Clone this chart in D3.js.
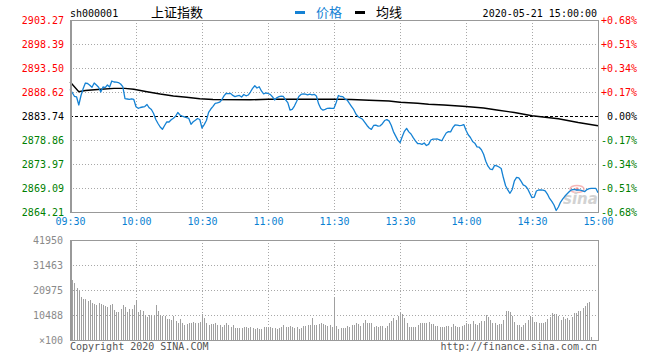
<!DOCTYPE html>
<html>
<head>
<meta charset="utf-8">
<script src="https://cdn.jsdelivr.net/npm/d3@7"></script>
<style>
  body { margin: 0; background: #fff; }
  svg { display: block; }
</style>
</head>
<body>
<div id="chart"></div>
<script>
var stockCode = 'sh000001';
var stockName = '上证指数';
var stamp = '2020-05-21 15:00:00';
var legendNames = ['价格', '均线'];
var prevClose = 2883.74;

var priceTicks = [2903.27, 2898.39, 2893.50, 2888.62, 2883.74, 2878.86, 2873.97, 2869.09, 2864.21];
var pctLabels = ['+0.68%', '+0.51%', '+0.34%', '+0.17%', '0.00%', '-0.17%', '-0.34%', '-0.51%', '-0.68%'];
var volTicks = [41950, 31463, 20975, 10488, 0];
var volLabels = ['41950', '31463', '20975', '10488', '\u00d7100'];
var timeIdx = [0, 30, 60, 90, 120, 150, 180, 210, 240];
var timeLabels = ['09:30', '10:00', '10:30', '11:00', '11:30', '13:30', '14:00', '14:30', '15:00'];

// minute prices, 09:30 - 11:30
var morningPrice = [
  2889.17, 2888.52, 2887.75, 2887.61, 2885.98, 2887.91, 2889.33, 2890.45, 2890.35, 2890.01,
  2889.58, 2890.45, 2890.05, 2889.58, 2888.62, 2889.64, 2889.52, 2890.05, 2889.64, 2890.86,
  2890.66, 2890.62, 2890.55, 2890.25, 2889.70, 2887.26, 2887.20, 2887.14, 2887.24, 2887.10,
  2885.63, 2885.31, 2885.47, 2885.57, 2885.67, 2886.08, 2885.41, 2885.06, 2884.25, 2883.03,
  2882.21, 2881.50, 2881.03, 2881.81, 2882.56, 2882.52, 2882.99, 2883.29, 2883.68, 2884.45,
  2883.94, 2883.70, 2883.54, 2883.39, 2883.25, 2882.05, 2882.56, 2882.89, 2883.23, 2883.03,
  2881.30, 2881.99, 2882.82, 2884.49, 2885.16, 2885.71, 2886.32, 2886.40, 2886.55, 2887.04,
  2887.83, 2888.36, 2888.30, 2888.34, 2887.93, 2887.69, 2887.83, 2887.93, 2887.61, 2888.11,
  2887.85, 2888.01, 2888.62, 2889.37, 2889.90, 2889.44, 2889.68, 2888.83, 2888.24, 2888.42,
  2888.32, 2888.13, 2887.67, 2887.00, 2887.46, 2887.69, 2887.79, 2887.71, 2887.02, 2886.45,
  2884.96, 2885.08, 2885.77, 2886.69, 2887.71, 2888.13, 2888.22, 2888.18, 2888.03, 2888.20,
  2888.05, 2888.15, 2887.81, 2886.22, 2885.27, 2884.92, 2885.10, 2885.31, 2885.33, 2885.29,
  2885.31
];

// minute prices, 13:01 - 15:00
var afternoonPrice = [
  2886.49, 2887.91, 2887.71, 2887.69, 2887.20, 2886.99, 2886.30, 2885.65, 2885.02, 2884.11,
  2883.58, 2883.33, 2883.07, 2882.46, 2881.81, 2881.30, 2881.03, 2881.81, 2881.87, 2881.67,
  2881.75, 2882.17, 2882.82, 2883.01, 2882.74, 2881.87, 2880.57, 2879.69, 2878.84, 2878.31,
  2879.53, 2880.63, 2881.22, 2880.51, 2880.08, 2879.33, 2878.68, 2878.15, 2878.11, 2877.96,
  2878.25, 2877.74, 2877.96, 2878.86, 2879.04, 2879.02, 2879.06, 2878.90, 2878.70, 2879.51,
  2880.28, 2880.55, 2880.52, 2881.36, 2881.91, 2881.90, 2881.79, 2881.83, 2881.99, 2880.83,
  2879.92, 2879.37, 2878.55, 2878.21, 2877.47, 2877.39, 2876.88, 2875.95, 2874.54, 2873.53,
  2872.94, 2872.84, 2873.69, 2873.59, 2873.37, 2873.06, 2871.17, 2869.56, 2868.71, 2868.02,
  2868.79, 2870.54, 2871.27, 2871.15, 2870.48, 2869.74, 2869.50, 2868.97, 2868.04, 2867.14,
  2867.22, 2868.48, 2868.69, 2868.70, 2868.66, 2868.50, 2867.87, 2866.96, 2866.37, 2865.64,
  2864.52, 2865.23, 2866.24, 2866.88, 2867.46, 2867.91, 2868.38, 2868.73, 2868.79, 2868.69,
  2868.72, 2868.67, 2868.52, 2868.36, 2868.77, 2868.97, 2869.03, 2869.03, 2869.03, 2868.14
];

// average price line, read at these minutes
var avgMinute = [0, 4, 7, 14, 20, 25, 29, 35, 41, 47, 53, 59, 65, 82, 90, 120,
  128, 136, 145, 150, 158, 163, 170, 180, 188, 194, 202, 210, 222, 231, 240];
var avgPrice = [2890.72, 2888.68, 2888.93, 2889.17, 2889.37, 2889.37, 2889.17, 2888.68,
  2888.21, 2887.81, 2887.54, 2887.26, 2887.10, 2887.04, 2887.14, 2887.18,
  2887.10, 2886.93, 2886.79, 2886.53, 2886.32, 2886.12, 2885.98, 2885.67,
  2885.37, 2884.96, 2884.45, 2883.80, 2883.17, 2882.42, 2881.77];

// volume (x100), 09:30 - 11:30
var morningVol = [
  41950,
  25170, 23900, 21800, 20560, 18040, 17200, 17150, 16360, 16780, 15520,
  15100, 14680, 15530, 15090, 14700, 14260, 13840, 14690, 15100, 12590,
  11750, 11740, 13000, 14680, 13850, 11760, 13010, 12990, 14690,
  16780,
  11750, 12590, 12170, 10490, 9650, 10480, 10500, 10470, 14680, 12160,
  10490, 10060, 10080, 8810, 8800, 8390, 10070, 7970, 7130, 8820,
  7140, 6290, 6710, 7130, 7140, 7550, 7120, 7140, 7560,
  10910,
  9230, 7130, 6290, 6720, 6700, 7140, 6290, 6300, 5450, 6290,
  7130, 6300, 5460, 6280, 5030, 5040, 5020, 5040, 5450, 5460,
  5040, 5450, 5030, 4620, 5040, 4610, 4620, 5460, 5450, 5030,
  5460, 5040, 5030, 4610, 5040, 5450, 6290, 5460, 5450, 5870,
  5460, 5030, 5450, 4620, 5040, 5870, 5880, 6290, 6300,
  9230,
  6290, 6300, 6710, 7130, 6720, 6290, 5870, 6300,
  5450,
  18040
];

// volume (x100), 13:01 - 15:00
var afternoonVol = [
  5870, 4620, 5030, 5040, 5050, 5880, 5450, 6290, 6300, 7130,
  6710, 5870, 7140, 8390, 7130, 7140, 7120, 5460, 5870, 5450,
  5880, 5870, 5040, 5870, 7130, 7970, 9230, 8390, 10070,
  11330, 10910,
  9230, 7130, 5450, 5460, 5440, 5460, 6290, 7130, 7140, 7120,
  7140, 7550, 6710, 6720, 5870, 5880, 5450, 5460, 5440, 5870,
  5880, 5450, 6720, 5870, 5460, 5450, 5880, 6290,
  7130,
  6710, 6720, 7970, 6710, 6290, 7130, 7970, 7960, 10490, 9650,
  8390, 7130, 7140, 6290, 6710, 6720, 8390, 12170, 12160, 11750,
  10070, 7550, 6290, 6300, 5450, 6290, 7130, 8390, 10070,
  9650,
  7550, 7560, 7130, 7140, 7120, 7550, 8810, 9650, 11330, 10910,
  10900, 10070, 8390, 9650, 8810, 9230, 8390, 9640, 11330, 11320,
  12170, 12160, 13420, 14260, 15520, 15940, 1260,
  0, 0, 0
];

function createChart() {

var Chart = {
  svg: null,
  x: null,
  yPrice: null,
  yVol: null,
  left: 70,
  right: 598,
  priceTop: 20,
  priceBottom: 212,
  volTop: 240,
  volBottom: 340,
  mono: '"DejaVu Sans Mono", "Liberation Mono", monospace',
  cjk: '"Noto Sans CJK SC", sans-serif',
  blue: '#1582d4',
  red: '#ff0000',
  green: '#008000',
  gridColor: '#a8a8a8',
  frameColor: '#999'
};

Chart.init = function init(sel) {
  this.svg = sel.append('svg')
    .attr('width', 660)
    .attr('height', 360);

  this.x = d3.scaleLinear().domain([0, 240]).range([this.left, this.right]);
  this.yPrice = d3.scaleLinear()
    .domain([priceTicks[priceTicks.length - 1], priceTicks[0]])
    .range([this.priceBottom, this.priceTop]);
  this.yVol = d3.scaleLinear().domain([0, volTicks[0]]).range([this.volBottom, this.volTop]);

  this.drawHeader();
  this.drawPricePanel();
  this.drawVolumePanel();
  this.drawFooter();
  return this;
}

Chart.colorFor = function colorFor(v) {
  if (Math.abs(v - prevClose) < 0.005) return '#000';
  return v > prevClose ? this.red : this.green;
}

Chart.drawHeader = function drawHeader() {
  var g = this.svg.append('g').attr('id', 'header');

  g.append('text').attr('x', 70).attr('y', 16.5)
    .style('font', '10px ' + this.mono).attr('fill', '#000').text(stockCode);
  g.append('text').attr('x', 151).attr('y', 16.5)
    .style('font', '13px ' + this.cjk).attr('fill', '#000').text(stockName);

  g.append('rect').attr('x', 295).attr('y', 11).attr('width', 10).attr('height', 3)
    .attr('fill', this.blue);
  g.append('text').attr('x', 316).attr('y', 16.5)
    .style('font', '13px ' + this.cjk).attr('fill', this.blue).text(legendNames[0]);

  g.append('rect').attr('x', 355).attr('y', 11).attr('width', 10).attr('height', 3)
    .attr('fill', '#000');
  g.append('text').attr('x', 376).attr('y', 16.5)
    .style('font', '13px ' + this.cjk).attr('fill', '#000').text(legendNames[1]);

  g.append('text').attr('x', 597).attr('y', 16.5).attr('text-anchor', 'end')
    .style('font', '10px ' + this.mono).attr('fill', '#000').text(stamp);
}

Chart.drawGrid = function drawGrid(g, ys, top, bottom) {
  var self = this;
  g.selectAll('line.hgrid').data(ys).enter().append('line')
    .attr('class', 'hgrid')
    .attr('x1', this.left).attr('x2', this.right)
    .attr('y1', function (d) { return Math.round(d) + 0.5; })
    .attr('y2', function (d) { return Math.round(d) + 0.5; })
    .attr('stroke', this.gridColor)
    .attr('stroke-dasharray', '1,2');

  g.selectAll('line.vgrid').data(timeIdx.slice(1, -1)).enter().append('line')
    .attr('class', 'vgrid')
    .attr('x1', function (d) { return Math.round(self.x(d)) + 0.5; })
    .attr('x2', function (d) { return Math.round(self.x(d)) + 0.5; })
    .attr('y1', top).attr('y2', bottom)
    .attr('stroke', this.gridColor)
    .attr('stroke-dasharray', '1,2');
}

Chart.drawFrame = function drawFrame(g, top, bottom) {
  g.append('rect')
    .attr('x', this.left + 0.5).attr('y', top + 0.5)
    .attr('width', this.right - this.left).attr('height', bottom - top)
    .attr('fill', 'none').attr('stroke', this.frameColor);
  g.append('line')
    .attr('x1', this.left + 1).attr('x2', this.left + 1)
    .attr('y1', top).attr('y2', bottom + 1)
    .attr('stroke', this.frameColor).attr('stroke-width', 2);
}

Chart.drawPricePanel = function drawPricePanel() {
  var self = this;
  var g = this.svg.append('g').attr('id', 'pricePanel');
  var prices = morningPrice.concat(afternoonPrice);

  var inner = priceTicks.slice(1, -1).filter(function (v) { return v !== prevClose; });
  this.drawGrid(g, inner.map(function (v) { return self.yPrice(v); }),
    this.priceTop, this.priceBottom);

  var yc = Math.round(this.yPrice(prevClose)) + 0.5;
  g.append('line')
    .attr('x1', this.left).attr('x2', this.right)
    .attr('y1', yc).attr('y2', yc)
    .attr('stroke', '#000').attr('stroke-dasharray', '3,2');

  this.drawWatermark(g);

  var avgLine = d3.line()
    .x(function (d, i) { return self.x(avgMinute[i]); })
    .y(function (d) { return self.yPrice(d); });
  g.append('path').datum(avgPrice)
    .attr('d', avgLine)
    .attr('fill', 'none').attr('stroke', '#000').attr('stroke-width', 1.4);

  var priceLine = d3.line()
    .x(function (d, i) { return self.x(i); })
    .y(function (d) { return self.yPrice(d); });
  g.append('path').datum(prices)
    .attr('d', priceLine)
    .attr('fill', 'none').attr('stroke', this.blue).attr('stroke-width', 1.3)
    .attr('stroke-linejoin', 'round');

  this.drawFrame(g, this.priceTop, this.priceBottom);

  // left price labels
  var leftAxis = g.append('g')
    .attr('transform', 'translate(' + this.left + ',0)')
    .call(d3.axisLeft(this.yPrice).tickValues(priceTicks)
      .tickFormat(d3.format('.2f')).tickSize(0).tickPadding(6));
  leftAxis.select('.domain').remove();
  leftAxis.selectAll('text')
    .style('font', '10px ' + this.mono)
    .attr('fill', function (d) { return self.colorFor(d); });

  // right percent labels
  var rightAxis = g.append('g')
    .attr('transform', 'translate(' + this.right + ',0)')
    .call(d3.axisRight(this.yPrice).tickValues(priceTicks)
      .tickFormat(function (d, i) { return pctLabels[i]; }).tickSize(0));
  rightAxis.select('.domain').remove();
  rightAxis.selectAll('text')
    .attr('x', 39).attr('text-anchor', 'end')
    .style('font', '10px ' + this.mono)
    .attr('fill', function (d) { return self.colorFor(d); });

  // time labels
  var timeAxis = g.append('g')
    .attr('transform', 'translate(0,' + this.priceBottom + ')')
    .call(d3.axisBottom(this.x).tickValues(timeIdx)
      .tickFormat(function (d, i) { return timeLabels[i]; }).tickSize(0).tickPadding(6));
  timeAxis.select('.domain').remove();
  timeAxis.selectAll('text')
    .style('font', '10px ' + this.mono)
    .attr('fill', '#0a7fd2');
}

Chart.drawWatermark = function drawWatermark(g) {
  var w = g.append('g').attr('opacity', 0.75);
  w.append('ellipse').attr('cx', 577).attr('cy', 189).attr('rx', 7).attr('ry', 3.5)
    .attr('fill', 'none').attr('stroke', '#f4a0a0').attr('stroke-width', 1.5);
  w.append('circle').attr('cx', 577).attr('cy', 189).attr('r', 1.8).attr('fill', '#f08080');
  w.append('text').attr('x', 563).attr('y', 204)
    .style('font', 'italic bold 15px "DejaVu Sans", sans-serif')
    .attr('fill', '#c4c4c4').text('sina');
}

Chart.drawVolumePanel = function drawVolumePanel() {
  var self = this;
  var g = this.svg.append('g').attr('id', 'volumePanel');
  var vols = morningVol.concat(afternoonVol);

  this.drawGrid(g, volTicks.slice(1, -1).map(function (v) { return self.yVol(v); }),
    this.volTop, this.volBottom);

  g.selectAll('line.bar').data(vols).enter().append('line')
    .attr('class', 'bar')
    .attr('x1', function (d, i) { return Math.round(self.x(i)) + 0.5; })
    .attr('x2', function (d, i) { return Math.round(self.x(i)) + 0.5; })
    .attr('y1', this.yVol(0))
    .attr('y2', function (d) { return self.yVol(d); })
    .attr('stroke', '#a0a0a0');

  this.drawFrame(g, this.volTop, this.volBottom);

  var volAxis = g.append('g')
    .attr('transform', 'translate(' + this.left + ',0)')
    .call(d3.axisLeft(this.yVol).tickValues(volTicks)
      .tickFormat(function (d, i) { return volLabels[i]; }).tickSize(0).tickPadding(7));
  volAxis.select('.domain').remove();
  volAxis.selectAll('text')
    .style('font', '10px ' + this.mono)
    .attr('fill', '#8a8a8a');
}

Chart.drawFooter = function drawFooter() {
  var g = this.svg.append('g').attr('id', 'footer');
  g.append('text').attr('x', 70).attr('y', 350)
    .style('font', '10px ' + this.mono).attr('fill', '#555')
    .text('Copyright 2020 SINA.COM');
  g.append('text').attr('x', 597).attr('y', 350).attr('text-anchor', 'end')
    .style('font', '10px ' + this.mono).attr('fill', '#555')
    .text('http://finance.sina.com.cn');
}

return Chart;
}

createChart().init(d3.select('#chart'));
</script>
</body>
</html>
